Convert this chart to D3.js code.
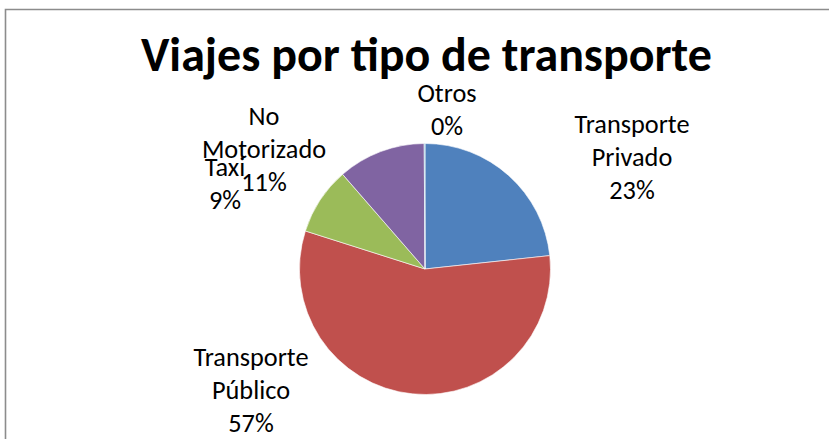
<!DOCTYPE html>
<html>
<head>
<meta charset="utf-8">
<script src="https://cdn.jsdelivr.net/npm/d3@7"></script>
<style>
  html, body { margin: 0; padding: 0; background: #fff; }
  svg { display: block; }
</style>
</head>
<body>
<div id="chart"></div>
<script>
// chart data
const title = "Viajes por tipo de transporte";
const categories = ["Transporte Privado", "Transporte Público", "Taxi", "No Motorizado", "Otros"];
const values = [23.3, 56.6, 8.7, 11.3, 0.1];
const colors = ["#4F81BD", "#C0504D", "#9BBB59", "#8064A2", "#4BACC6"];
// label text broken into lines the way Excel wrapped them
const labelLines = [["Transporte", "Privado"], ["Transporte", "Público"], ["Taxi"], ["No", "Motorizado"], ["Otros"]];

const width = 829, height = 439;
const font = "Carlito, Calibri, Lato, 'Open Sans', sans-serif";

const svg = d3.select("#chart").append("svg")
    .attr("width", width).attr("height", height);

// chart area border (right and bottom edges are cropped in the reference)
svg.append("path")
    .attr("d", "M5.5,439 V9.5 H829")
    .attr("fill", "none")
    .attr("stroke", "#8c8c8c")
    .attr("stroke-width", 1.6);

// shrink/grow a text to a target width
function fitWidth(sel, target, start) {
  sel.attr("font-size", start);
  const w = sel.node().getComputedTextLength();
  sel.attr("font-size", start * target / w);
  return start * target / w;
}

const t = svg.append("text")
    .attr("x", 141).attr("y", 71)
    .attr("font-family", font)
    .attr("font-weight", "bold")
    .attr("fill", "#000")
    .text(title);
fitWidth(t, 571, 37);

const cx = 425, cy = 269, radius = 125.5;
const total = d3.sum(values);
const fmt = d3.format(".0%");

const pie = d3.pie().sort(null).value(d => d)(values);
const arc = d3.arc().innerRadius(0).outerRadius(radius);

const g = svg.append("g").attr("transform", `translate(${cx},${cy})`);
g.selectAll("path.slice")
  .data(pie)
  .join("path")
    .attr("class", "slice")
    .attr("d", arc)
    .attr("fill", (d, i) => colors[i])
    .attr("stroke", "#fff")
    .attr("stroke-width", 0.6);

// label placement (centre of first line), as laid out by Excel
const labelPos = [[632, 124], [251, 357], [225, 167], [264, 116], [447, 93]];
const lineStep = 32.7;

// font size so "Transporte" is about 115px wide
const probe = svg.append("text").attr("font-family", font).text("Transporte");
const labelSize = fitWidth(probe, 115, 25);
probe.remove();

pie.forEach((d, i) => {
  const lines = labelLines[i].concat([fmt(d.data / total)]);
  const txt = svg.append("text")
      .attr("font-family", font)
      .attr("font-size", labelSize)
      .attr("fill", "#000")
      .attr("text-anchor", "middle");
  lines.forEach((s, k) => {
    txt.append("tspan")
        .attr("x", labelPos[i][0])
        .attr("y", labelPos[i][1] + k * lineStep)
        .attr("dy", "0.35em")
        .text(s);
  });
});
</script>
</body>
</html>
